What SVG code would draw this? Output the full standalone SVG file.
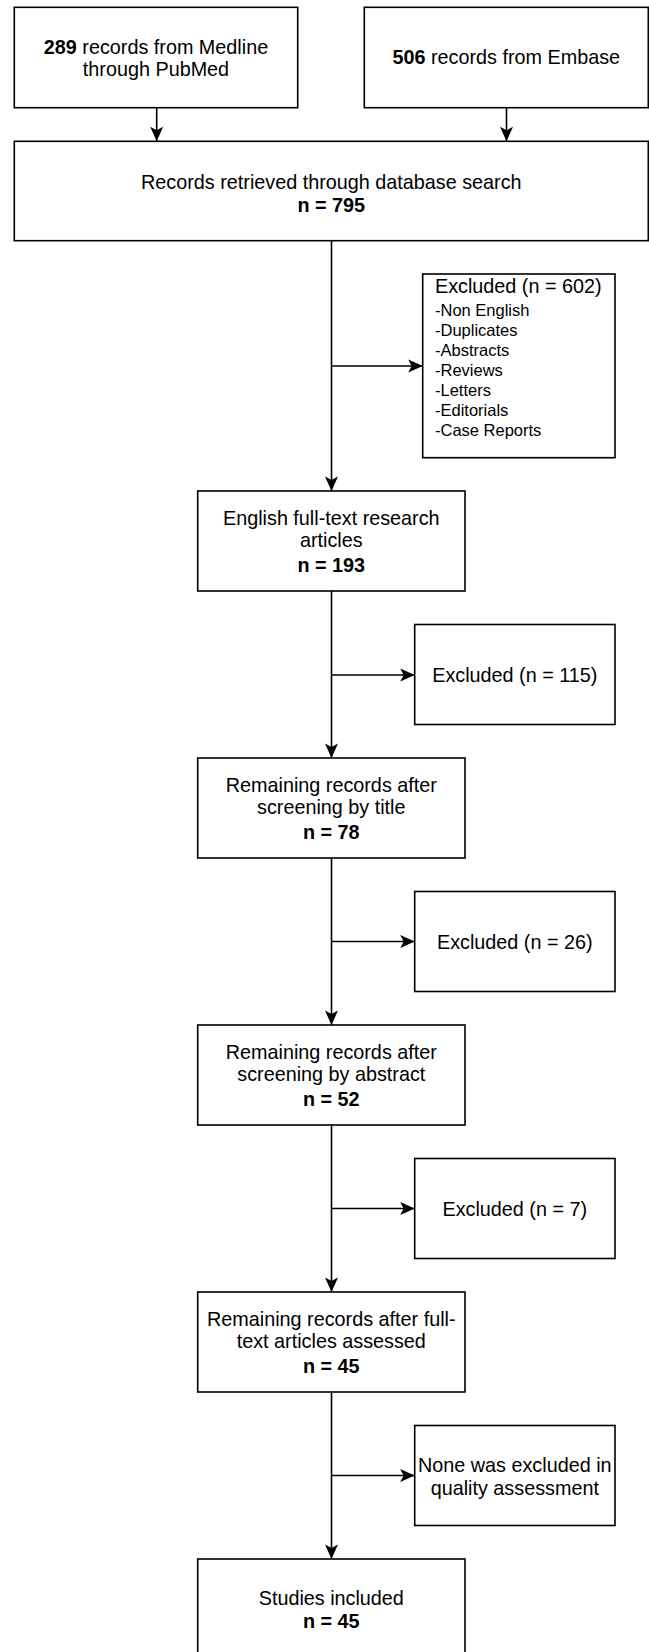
<svg xmlns="http://www.w3.org/2000/svg" width="649" height="1652" viewBox="0 0 649 1652">
<style>
.box{fill:#fff;stroke:#000;stroke-width:1.6}
.t{font-family:"Liberation Sans",Arial,Helvetica,sans-serif;font-size:19.8px;fill:#000;text-anchor:middle}
.l{font-family:"Liberation Sans",Arial,Helvetica,sans-serif;fill:#000;text-anchor:start}
.b{font-weight:bold}
.c{fill:none;stroke:#000;stroke-width:1.6}
</style>
<defs>
<marker id="arr" markerUnits="userSpaceOnUse" markerWidth="16" markerHeight="16" viewBox="0 0 16 16" refX="15" refY="8" orient="auto">
<path d="M0.5,1.5 L15,8 L0.5,14.5 L4,8 Z" fill="#000"/>
</marker>
</defs>
<rect width="649" height="1652" fill="#fff"/>
<g id="connectors">
<path class="c" d="M156.7,107.7 V141.3" marker-end="url(#arr)"/>
<path class="c" d="M506.5,107.7 V141.3" marker-end="url(#arr)"/>
<path class="c" d="M331.5,240.7 V491" marker-end="url(#arr)"/>
<path class="c" d="M331.5,366 H422.7" marker-end="url(#arr)"/>
<path class="c" d="M331.5,591 V758" marker-end="url(#arr)"/>
<path class="c" d="M331.5,675 H414.7" marker-end="url(#arr)"/>
<path class="c" d="M331.5,858 V1025" marker-end="url(#arr)"/>
<path class="c" d="M331.5,941.5 H414.7" marker-end="url(#arr)"/>
<path class="c" d="M331.5,1125 V1292" marker-end="url(#arr)"/>
<path class="c" d="M331.5,1208.5 H414.7" marker-end="url(#arr)"/>
<path class="c" d="M331.5,1392 V1559" marker-end="url(#arr)"/>
<path class="c" d="M331.5,1475.5 H414.7" marker-end="url(#arr)"/>
</g>
<g id="medline">
<rect class="box" x="14.3" y="7.3" width="283.4" height="100.4"/>
<text class="t" x="156" y="53.5"><tspan class="b">289</tspan> records from Medline</text>
<text class="t" x="156" y="76.2">through PubMed</text>
</g>
<g id="embase">
<rect class="box" x="364.3" y="7.3" width="284" height="100.4"/>
<text class="t" x="506.3" y="64"><tspan class="b">506</tspan> records from Embase</text>
</g>
<g id="retrieved">
<rect class="box" x="14.3" y="141.3" width="634" height="99.4"/>
<text class="t" x="331.3" y="189">Records retrieved through database search</text>
<text class="t b" x="331.3" y="212">n = 795</text>
</g>
<g id="excluded602">
<rect class="box" x="422.7" y="274" width="192.3" height="183.7"/>
<text class="l" x="435" y="292.7" font-size="19.8">Excluded (n = 602)</text>
<text class="l" x="435" y="315.7" font-size="16.5">-Non English</text>
<text class="l" x="435" y="335.7" font-size="16.5">-Duplicates</text>
<text class="l" x="435" y="355.7" font-size="16.5">-Abstracts</text>
<text class="l" x="435" y="375.7" font-size="16.5">-Reviews</text>
<text class="l" x="435" y="395.7" font-size="16.5">-Letters</text>
<text class="l" x="435" y="415.7" font-size="16.5">-Editorials</text>
<text class="l" x="435" y="435.7" font-size="16.5">-Case Reports</text>
</g>
<g id="english">
<rect class="box" x="197.7" y="491" width="267.3" height="100"/>
<text class="t" x="331.3" y="524.5">English full-text research</text>
<text class="t" x="331.3" y="547">articles</text>
<text class="t b" x="331.3" y="571.5">n = 193</text>
</g>
<g id="excluded115">
<rect class="box" x="414.7" y="624.5" width="200.3" height="100"/>
<text class="t" x="514.8" y="682">Excluded (n = 115)</text>
</g>
<g id="title">
<rect class="box" x="197.7" y="758" width="267.3" height="100"/>
<text class="t" x="331.3" y="791.5">Remaining records after</text>
<text class="t" x="331.3" y="814">screening by title</text>
<text class="t b" x="331.3" y="838.5">n = 78</text>
</g>
<g id="excluded26">
<rect class="box" x="414.7" y="891.5" width="200.3" height="100"/>
<text class="t" x="514.8" y="949">Excluded (n = 26)</text>
</g>
<g id="abstract">
<rect class="box" x="197.7" y="1025" width="267.3" height="100"/>
<text class="t" x="331.3" y="1058.5">Remaining records after</text>
<text class="t" x="331.3" y="1081">screening by abstract</text>
<text class="t b" x="331.3" y="1105.5">n = 52</text>
</g>
<g id="excluded7">
<rect class="box" x="414.7" y="1158.5" width="200.3" height="100"/>
<text class="t" x="514.8" y="1216">Excluded (n = 7)</text>
</g>
<g id="fulltext">
<rect class="box" x="197.7" y="1292" width="267.3" height="100"/>
<text class="t" x="331.3" y="1325.5">Remaining records after full-</text>
<text class="t" x="331.3" y="1348">text articles assessed</text>
<text class="t b" x="331.3" y="1372.5">n = 45</text>
</g>
<g id="quality">
<rect class="box" x="414.7" y="1425.5" width="200.3" height="100"/>
<text class="t" x="514.8" y="1471.8">None was excluded in</text>
<text class="t" x="514.8" y="1494.8">quality assessment</text>
</g>
<g id="included">
<rect class="box" x="197.7" y="1559" width="267.3" height="100"/>
<text class="t" x="331.3" y="1605">Studies included</text>
<text class="t b" x="331.3" y="1627.7">n = 45</text>
</g>
</svg>
